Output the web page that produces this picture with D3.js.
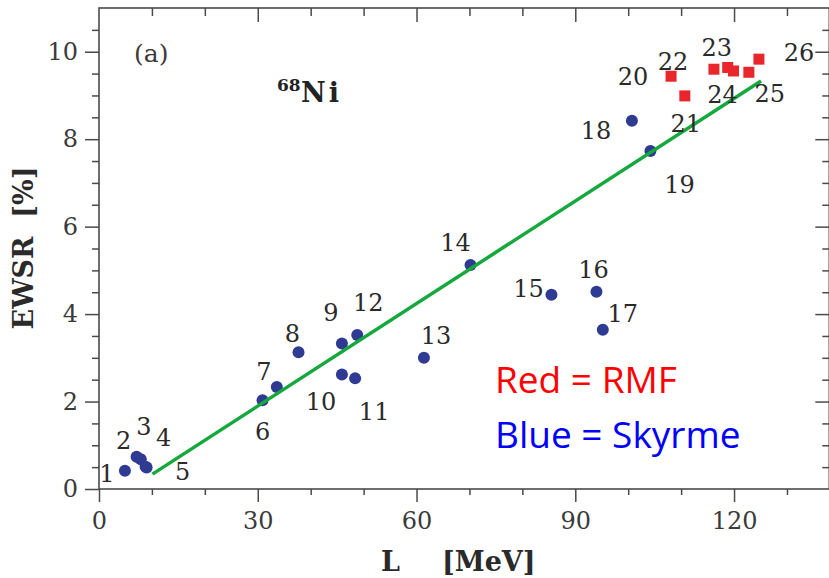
<!DOCTYPE html>
<html>
<head>
<meta charset="utf-8">
<script src="https://cdn.jsdelivr.net/npm/d3@7"></script>
<style>
  body { margin: 0; background: #fff; }
  svg { display: block; }
  .tick text { font-family: "DejaVu Serif", serif; font-size: 24px; fill: #3a3a3a; }
  .num { font-family: "DejaVu Serif", serif; font-size: 24px; fill: #2a2a2a; }
</style>
</head>
<body>
<div id="chart"></div>
<script>
// Skyrme (blue) models, numbered in order of L
const skyrmeIds = ["1","2","3","4","5","6","7","8","9","10","11","12","13","14","15","16","17","18","19"];
const skyrmeL = [4.9, 7.1, 7.9, 8.8, 9.0, 30.9, 33.6, 37.7, 45.9, 45.9, 48.4, 48.8, 61.4, 70.2, 85.5, 94.0, 95.2, 100.7, 104.2];
const skyrmeEWSR = [0.42, 0.74, 0.68, 0.51, 0.49, 2.03, 2.33, 3.13, 3.33, 2.62, 2.53, 3.52, 3.00, 5.12, 4.44, 4.51, 3.64, 8.42, 7.73];

// RMF (red) models
const rmfIds = ["20","21","22","23","24","25","26"];
const rmfL = [108.1, 110.7, 116.2, 118.8, 119.9, 122.8, 124.7];
const rmfEWSR = [9.44, 8.99, 9.60, 9.64, 9.56, 9.53, 9.83];

// linear fit
const fitL = [10.1, 125.1];
const fitEWSR = [0.34, 9.33];

const xMajor = [0, 30, 60, 90, 120];
const yMajor = [0, 2, 4, 6, 8, 10];

// label placement (pixel offsets from the mark), same order as ids
const skyrmeLabelOffsets = [[-18,11],[-13,-8],[3,-24],[18,-21],[36,12],[0,40],[-13,-7],[-6,-10],[-11,-22],[-21,36],[19,42],[11,-24],[12,-14],[-15,-14],[-23,2],[-3,-14],[20,-8],[-36,18],[29,42]];
const rmfLabelOffsets = [[-38,9],[1,36],[-41,1],[-11,-11],[-11,32],[21,30],[40,2]];

const width = 829, height = 578;
const x = d3.scaleLinear().domain([0, 138]).range([99, 829.3]);
const y = d3.scaleLinear().domain([0, 11]).range([489, 8]);

const svg = d3.select("#chart").append("svg")
  .attr("width", width)
  .attr("height", height);

const frameColor = "#4a4a4a";

function styleTicks(g) {
  g.select(".domain").remove();
  g.selectAll("line").attr("stroke", frameColor).attr("stroke-width", 1.5);
}

// bottom axis (outward ticks)
const xMinor = d3.range(0, 131, 10).filter(v => !xMajor.includes(v));
svg.append("g")
  .attr("transform", `translate(0,${y(0)})`)
  .call(d3.axisBottom(x).tickValues(xMajor).tickSize(13).tickPadding(10).tickFormat(d3.format("d")))
  .call(styleTicks);
svg.append("g")
  .attr("transform", `translate(0,${y(0)})`)
  .call(d3.axisBottom(x).tickValues(xMinor).tickSize(6).tickFormat(""))
  .call(styleTicks);

// top axis (inward ticks)
svg.append("g")
  .attr("transform", `translate(0,${y(11)})`)
  .call(d3.axisTop(x).tickValues(xMajor.filter(v => v > 0)).tickSize(-14).tickFormat(""))
  .call(styleTicks);
svg.append("g")
  .attr("transform", `translate(0,${y(11)})`)
  .call(d3.axisTop(x).tickValues(xMinor).tickSize(-8).tickFormat(""))
  .call(styleTicks);

// left axis (outward ticks)
const yMinor = d3.range(0.5, 11, 0.5).filter(v => !yMajor.includes(v));
svg.append("g")
  .attr("transform", `translate(${x(0)},0)`)
  .call(d3.axisLeft(y).tickValues(yMajor).tickSize(14).tickPadding(7).tickFormat(d3.format("d")))
  .call(styleTicks);
svg.append("g")
  .attr("transform", `translate(${x(0)},0)`)
  .call(d3.axisLeft(y).tickValues(yMinor).tickSize(7).tickFormat(""))
  .call(styleTicks);

// right axis (inward ticks)
svg.append("g")
  .attr("transform", `translate(${x(138)},0)`)
  .call(d3.axisRight(y).tickValues(yMajor.filter(v => v > 0)).tickSize(-14).tickFormat(""))
  .call(styleTicks);
svg.append("g")
  .attr("transform", `translate(${x(138)},0)`)
  .call(d3.axisRight(y).tickValues(yMinor).tickSize(-7).tickFormat(""))
  .call(styleTicks);

// frame
svg.append("rect")
  .attr("x", x(0))
  .attr("y", y(11))
  .attr("width", x(138) - x(0))
  .attr("height", y(0) - y(11))
  .attr("fill", "none")
  .attr("stroke", frameColor)
  .attr("stroke-width", 1.6);

const skyrme = skyrmeIds.map((id, i) => ({ id, L: skyrmeL[i], e: skyrmeEWSR[i], off: skyrmeLabelOffsets[i] }));
const rmf = rmfIds.map((id, i) => ({ id, L: rmfL[i], e: rmfEWSR[i], off: rmfLabelOffsets[i] }));

// Skyrme points
svg.append("g")
  .selectAll("circle")
  .data(skyrme)
  .enter()
  .append("circle")
  .attr("cx", d => x(d.L))
  .attr("cy", d => y(d.e))
  .attr("r", 6)
  .attr("fill", "#2f3b93");

// fit line
svg.append("line")
  .attr("x1", x(fitL[0]))
  .attr("y1", y(fitEWSR[0]))
  .attr("x2", x(fitL[1]))
  .attr("y2", y(fitEWSR[1]))
  .attr("stroke", "#15a83c")
  .attr("stroke-width", 3.5);

// RMF points
svg.append("g")
  .selectAll("rect")
  .data(rmf)
  .enter()
  .append("rect")
  .attr("x", d => x(d.L) - 5.5)
  .attr("y", d => y(d.e) - 5.5)
  .attr("width", 11)
  .attr("height", 11)
  .attr("fill", "#e8262b");

// point labels
svg.append("g")
  .selectAll("text")
  .data(skyrme.concat(rmf))
  .enter()
  .append("text")
  .attr("class", "num")
  .attr("x", d => x(d.L) + d.off[0])
  .attr("y", d => y(d.e) + d.off[1])
  .attr("text-anchor", "middle")
  .text(d => d.id);

// panel tag and nucleus
svg.append("text")
  .attr("x", 134)
  .attr("y", 62)
  .attr("font-family", "DejaVu Serif, serif")
  .attr("font-size", 25)
  .attr("fill", "#3a3a3a")
  .text("(a)");

svg.append("text")
  .attr("x", 277)
  .attr("y", 91)
  .attr("font-family", "DejaVu Serif, serif")
  .attr("font-weight", "bold")
  .attr("font-size", 17)
  .attr("fill", "#222")
  .text("68");
svg.append("text")
  .attr("x", 301)
  .attr("y", 102)
  .attr("font-family", "DejaVu Serif, serif")
  .attr("font-weight", "bold")
  .attr("font-size", 27)
  .attr("letter-spacing", 3)
  .attr("fill", "#222")
  .text("Ni");

// axis titles
svg.append("text")
  .attr("x", 381)
  .attr("y", 571)
  .attr("font-family", "DejaVu Serif, serif")
  .attr("font-weight", "bold")
  .attr("font-size", 27)
  .attr("fill", "#2a2a2a")
  .text("L");
svg.append("text")
  .attr("x", 442)
  .attr("y", 571)
  .attr("font-family", "DejaVu Serif, serif")
  .attr("font-weight", "bold")
  .attr("font-size", 27)
  .attr("fill", "#2a2a2a")
  .text("[MeV]");

svg.append("text")
  .attr("transform", "translate(33,248) rotate(-90)")
  .attr("text-anchor", "middle")
  .attr("font-family", "DejaVu Serif, serif")
  .attr("font-weight", "bold")
  .attr("font-size", 27)
  .attr("fill", "#2a2a2a")
  .attr("xml:space", "preserve")
  .text("EWSR  [%]");

// legend note
svg.append("text")
  .attr("x", 495)
  .attr("y", 393)
  .attr("font-family", "Open Sans, sans-serif")
  .attr("font-size", 37)
  .attr("fill", "#ff0000")
  .text("Red = RMF");
svg.append("text")
  .attr("x", 495)
  .attr("y", 448)
  .attr("font-family", "Open Sans, sans-serif")
  .attr("font-size", 37)
  .attr("fill", "#0000ff")
  .text("Blue = Skyrme");
</script>
</body>
</html>
